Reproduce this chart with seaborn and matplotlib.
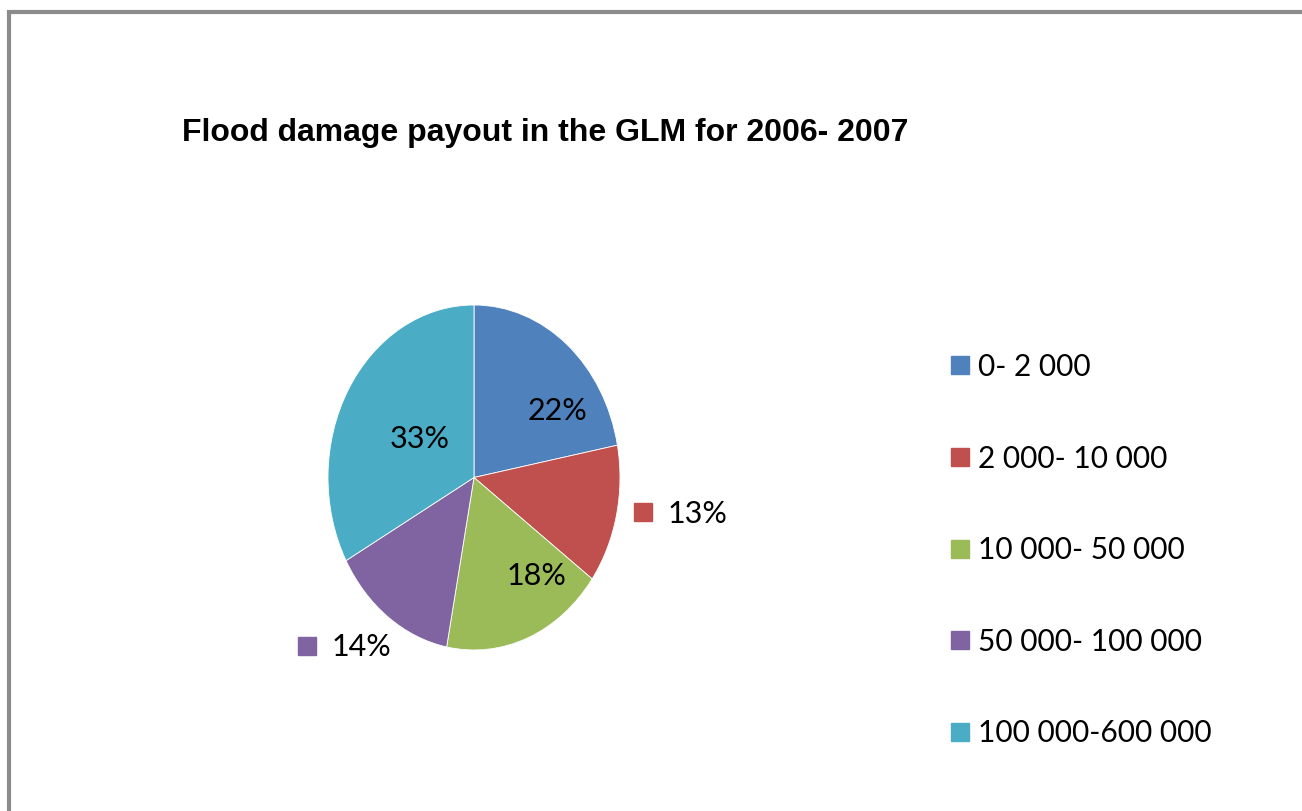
import matplotlib
matplotlib.use("Agg")
import matplotlib.pyplot as plt
import seaborn as sns
from matplotlib.lines import Line2D

# payout bands and their share of claims (%)
categories = ["0- 2 000", "2 000- 10 000", "10 000- 50 000", "50 000- 100 000", "100 000-600 000"]
shares = [22, 13, 18, 14, 33]
colors = ["#4F81BD", "#C0504D", "#9BBB59", "#8064A2", "#4BACC6"]
title = "Flood damage payout in the GLM for 2006- 2007"

sns.set_theme(style="white")
plt.rcParams["font.family"] = ["Lato", "DejaVu Sans"]
plt.rcParams["text.color"] = "black"

W, H = 1302, 811
fig = plt.figure(figsize=(W / 100, H / 100), dpi=100)

# gray frame of the chart area (right and bottom edges run off the picture)
frame = plt.Rectangle((9 / W, -0.1), 1.2, 1 - 12 / H + 0.1, transform=fig.transFigure,
                      fill=False, edgecolor="#8c8c8c", linewidth=3, zorder=0)
fig.patches.append(frame)

# pie is stretched vertically, like the original
ax = fig.add_axes([328 / W, (H - 650) / H, 292 / W, 345 / H])
wedges, _ = ax.pie(shares, colors=colors, startangle=90, counterclock=False,
                   wedgeprops=dict(edgecolor="white", linewidth=0.6))
ax.set_aspect("auto")
ax.set_xlim(-1, 1)
ax.set_ylim(-1, 1)

# data labels: inside for big slices, with a key square outside for small ones
label_pos = [(0.575, 0.385), (1.53, -0.21), (0.43, -0.57), (-0.77, -0.985), (-0.37, 0.225)]
outside = [False, True, False, True, False]
for val, (x, y), out, col in zip(shares, label_pos, outside, colors):
    ax.text(x, y, f"{val}%", ha="center", va="center", fontsize=22, color="black", clip_on=False)
    if out:
        ax.plot([x - 0.375], [y + 0.01], marker="s", markersize=13, color=col,
                linestyle="none", clip_on=False)

fig.text(545 / W, 1 - 133 / H, title, ha="center", va="center", color="black",
         fontsize=23, fontweight="bold", family=["Liberation Sans", "DejaVu Sans"])

handles = [Line2D([], [], marker="s", markersize=13, color=c, linestyle="none") for c in colors]
fig.legend(handles, categories, loc="upper left", bbox_to_anchor=(933 / W, 1 - 341 / H),
           frameon=False, fontsize=21.5, handletextpad=0.12, labelspacing=2.13,
           borderaxespad=0, handlelength=1.0, labelcolor="black")

fig.savefig("out.png", dpi=100)
